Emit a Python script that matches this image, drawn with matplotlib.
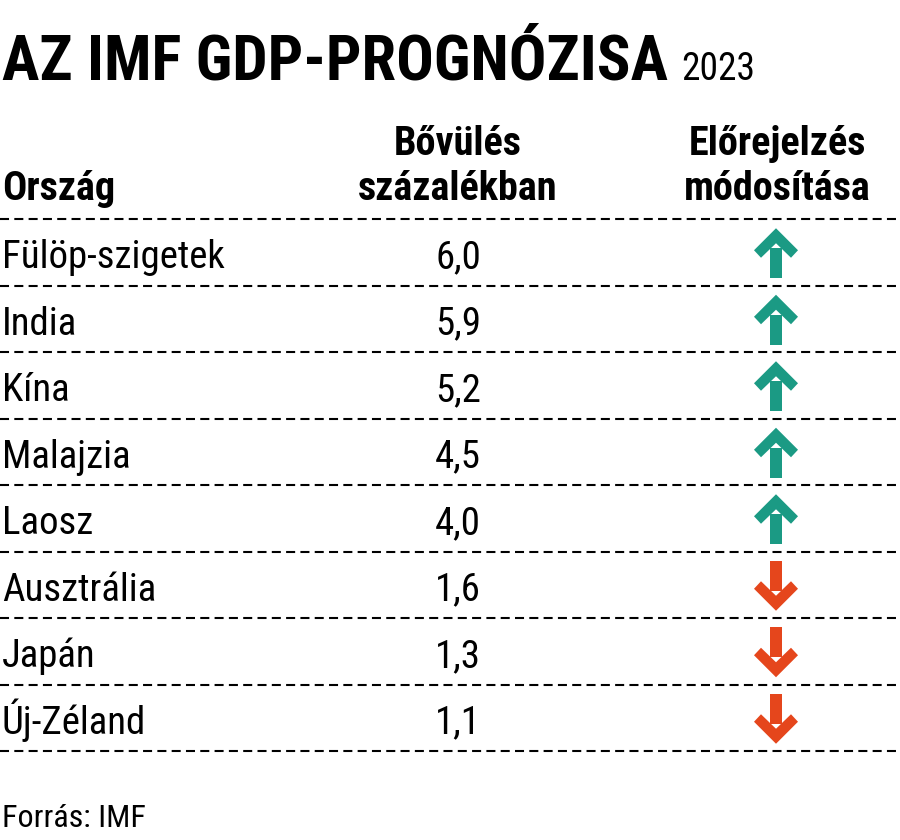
import matplotlib
matplotlib.use("Agg")
import matplotlib.pyplot as plt
from matplotlib.patches import Polygon

# Adatok
countries = ["Fülöp-szigetek", "India", "Kína", "Malajzia", "Laosz",
             "Ausztrália", "Japán", "Új-Zéland"]
growth = [6.0, 5.9, 5.2, 4.5, 4.0, 1.6, 1.3, 1.1]
revision = ["up", "up", "up", "up", "up", "down", "down", "down"]

title = "AZ IMF GDP-PROGNÓZISA"
year = "2023"
col_headers = ["Ország", "Bővülés\nszázalékban", "Előrejelzés\nmódosítása"]
source = "Forrás: IMF"

green = "#1b9a84"
red = "#e5461c"

plt.rcParams["font.family"] = ["Roboto Condensed", "DejaVu Sans"]
plt.rcParams["lines.scale_dashes"] = False

fig = plt.figure(figsize=(9, 8.4), dpi=100)
ax = fig.add_axes([0, 0, 1, 1])
ax.set_xlim(0, 900)
ax.set_ylim(840, 0)
ax.axis("off")

# Cím, utána az évszám
t = ax.text(2, 80, title, fontsize=45, fontweight="bold", va="baseline", ha="left")
fig.canvas.draw()
bb = t.get_window_extent()
x_end = ax.transData.inverted().transform((bb.x1, bb.y0))[0]
ax.text(x_end + 13, 80, year, fontsize=27, va="baseline", ha="left")

# Fejléc
ax.text(2, 200, col_headers[0], fontsize=29, fontweight="bold", va="baseline")
for x, head in [(458, col_headers[1]), (777, col_headers[2])]:
    l1, l2 = head.split("\n")
    ax.text(x, 155, l1, fontsize=29, fontweight="bold", va="baseline", ha="center")
    ax.text(x, 200, l2, fontsize=29, fontweight="bold", va="baseline", ha="center")

top, step = 219, 66.5
num_x, arrow_x = 481, 776


def arrow(cx, cy, up, color):
    s = -1 if up else 1
    head = [(0, -25), (22, -3), (15, 4.5), (0, -10), (-15, 4.5), (-22, -3)]
    shaft = [(-6, -5), (6, -5), (6, 25), (-6, 25)]
    for pts in (head, shaft):
        ax.add_patch(Polygon([(cx + px, cy - s * py) for px, py in pts],
                             closed=True, facecolor=color, edgecolor="none"))


for i in range(len(countries) + 1):
    ax.plot([0, 900], [top + i * step] * 2, color="black", lw=1.5, dashes=(6.5, 3.8))

for i, (c, g, r) in enumerate(zip(countries, growth, revision)):
    cy = top + (i + 0.5) * step
    ax.text(2, cy + 16, c, fontsize=28, va="baseline", ha="left")
    ax.text(num_x, cy + 16, f"{g:.1f}".replace(".", ","), fontsize=28,
            va="baseline", ha="right")
    arrow(arrow_x, cy + 1, r == "up", green if r == "up" else red)

ax.text(2, 827, source, fontsize=23, va="baseline", ha="left")

fig.savefig("out.png", dpi=100)
